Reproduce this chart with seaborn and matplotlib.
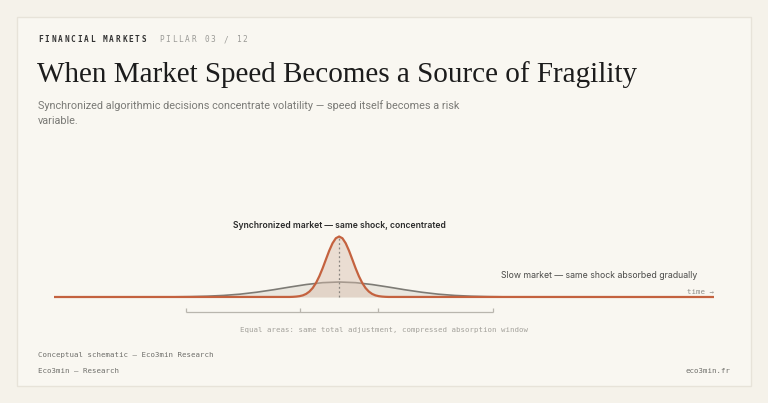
import matplotlib
matplotlib.use("Agg")
import matplotlib.pyplot as plt
from matplotlib.patches import Rectangle
import numpy as np
import pandas as pd
import seaborn as sns

# Conceptual schematic: same shock, two absorption speeds

# time axis (shock at t = 0)
t_start, t_end = -8.64, 11.36
t_sharp = [-1.5, -1.4, -1.3, -1.2, -1.1, -1.0, -0.9, -0.8, -0.7, -0.6, -0.5,
           -0.4, -0.3, -0.2, -0.1, 0.0, 0.1, 0.2, 0.3, 0.4, 0.5, 0.6, 0.7,
           0.8, 0.9, 1.0, 1.1, 1.2, 1.3, 1.4, 1.5]
sharp = [0.001, 0.003, 0.007, 0.014, 0.027, 0.051, 0.090, 0.149, 0.233, 0.343,
         0.475, 0.621, 0.765, 0.888, 0.971, 1.000, 0.971, 0.888, 0.765, 0.621,
         0.475, 0.343, 0.233, 0.149, 0.090, 0.051, 0.027, 0.014, 0.007, 0.003,
         0.001]
t_wide = [-6.0, -5.5, -5.0, -4.5, -4.0, -3.5, -3.0, -2.5, -2.0, -1.5, -1.0, -0.5,
          0.0, 0.5, 1.0, 1.5, 2.0, 2.5, 3.0, 3.5, 4.0, 4.5, 5.0, 5.5, 6.0]
wide = [0.0, 0.001, 0.0025, 0.006, 0.013, 0.026, 0.047, 0.079, 0.119, 0.164,
        0.206, 0.237, 0.248, 0.237, 0.206, 0.164, 0.119, 0.079, 0.047, 0.026,
        0.013, 0.006, 0.0025, 0.001, 0.0]
bracket_edges = [-4.65, -1.18, 1.18, 4.65]

sync_label = "Synchronized market — same shock, concentrated"
slow_label = "Slow market — same shock absorbed gradually"
note_label = "Equal areas: same total adjustment, compressed absorption window"

RED = "#c4623f"
GREY = "#7d7b75"
BG = "#f5f2ea"
CARD = "#f9f7f1"

sns.set_theme(style="white")
plt.rcParams["font.family"] = ["DejaVu Sans"]

W, H = 768, 403
fig = plt.figure(figsize=(W / 100, H / 100), dpi=100, facecolor=BG)


def fx(px):
    return px / W


def fy(py):
    return 1 - py / H


# card
fig.patches.append(Rectangle((fx(16.5), fy(386)), fx(751) - fx(16.5), fy(16.5) - fy(386),
                             transform=fig.transFigure, facecolor=CARD,
                             edgecolor="#e7e3d9", linewidth=1.0, zorder=-10))


def spaced(x, y, s, step, **kw):
    for i, ch in enumerate(s):
        fig.text(fx(x + i * step), fy(y), ch, va="center", ha="left", **kw)


mono = "DejaVu Sans Mono"
spaced(38.3, 40, "FINANCIAL MARKETS", 6.45, family=mono, fontsize=5.6,
       color="#333333", fontweight="bold")
spaced(159, 40, "PILLAR 03 / 12", 6.45, family=mono, fontsize=5.6, color="#9a9a96")

fig.text(fx(37), fy(75), "When Market Speed Becomes a Source of Fragility",
         family="Liberation Serif", fontsize=21, color="#1c1c1c", va="center", ha="left")
fig.text(fx(38), fy(106), "Synchronized algorithmic decisions concentrate volatility — speed itself becomes a risk",
         family="Roboto", fontsize=7.85, color="#7a7a76", va="center", ha="left")
fig.text(fx(38), fy(121), "variable.",
         family="Roboto", fontsize=7.85, color="#7a7a76", va="center", ha="left")

fig.text(fx(38), fy(355.5), "Conceptual schematic — Eco3min Research",
         family=mono, fontsize=5.3, color="#6e6e6a", va="center", ha="left")
fig.text(fx(38), fy(370.7), "Eco3min — Research",
         family=mono, fontsize=5.3, color="#6e6e6a", va="center", ha="left")
fig.text(fx(730), fy(370.7), "eco3min.fr",
         family=mono, fontsize=5.3, color="#6e6e6a", va="center", ha="right")

# chart axes: t -> px 54..714, y 0 at px 297, 1 unit = 60.5 px
y0_px, unit_px = 297, 60.5
ylo, yhi = -0.7, 1.3
bottom_px = y0_px - ylo * unit_px
top_px = y0_px - yhi * unit_px
ax = fig.add_axes([fx(54), fy(bottom_px), fx(714) - fx(54), (bottom_px - top_px) / H])
ax.patch.set_alpha(0)

df_sharp = pd.DataFrame({"t": [t_start] + t_sharp + [t_end], "v": [0.0] + sharp + [0.0]})
df_wide = pd.DataFrame({"t": t_wide, "v": wide})

ax.fill_between(df_wide["t"], 0, df_wide["v"], color="#e9e6de", alpha=0.9, lw=0, zorder=1)
sns.lineplot(data=df_wide, x="t", y="v", ax=ax, color=GREY, lw=1.2, zorder=2)
ax.fill_between(df_sharp["t"], 0, df_sharp["v"], color="#d9bfae", alpha=0.45, lw=0, zorder=3)
ax.vlines(0, 0, max(sharp), colors="#8a8580", linestyles=(0, (1.5, 2)), lw=0.9, zorder=4)
sns.lineplot(data=df_sharp, x="t", y="v", ax=ax, color=RED, lw=1.6, zorder=5)

# bracket under the curves
by, tick = -0.243, 0.058
ax.hlines(by, bracket_edges[0], bracket_edges[-1], colors="#b9b6ae", lw=0.9)
ax.vlines(bracket_edges, by, by + tick, colors="#b9b6ae", lw=0.9)

ax.text(0, 1.19, sync_label, ha="center", va="center", family="Inter",
        fontsize=6.2, fontweight="semibold", color="#2a2a2a")
ax.text(4.9, 0.352, slow_label, ha="left", va="center", family="Inter",
        fontsize=6.25, color="#4a4a48")
ax.text(t_end, 0.088, "time →", ha="right", va="center", family=mono,
        fontsize=5.3, color="#8f8d88")
ax.text(1.36, -0.545, note_label, ha="center", va="center", family=mono,
        fontsize=5.3, color="#a3a19b")

ax.set_xlim(t_start, t_end)
ax.set_ylim(ylo, yhi)
ax.axis("off")

fig.savefig("out.png", dpi=100, facecolor=BG)
